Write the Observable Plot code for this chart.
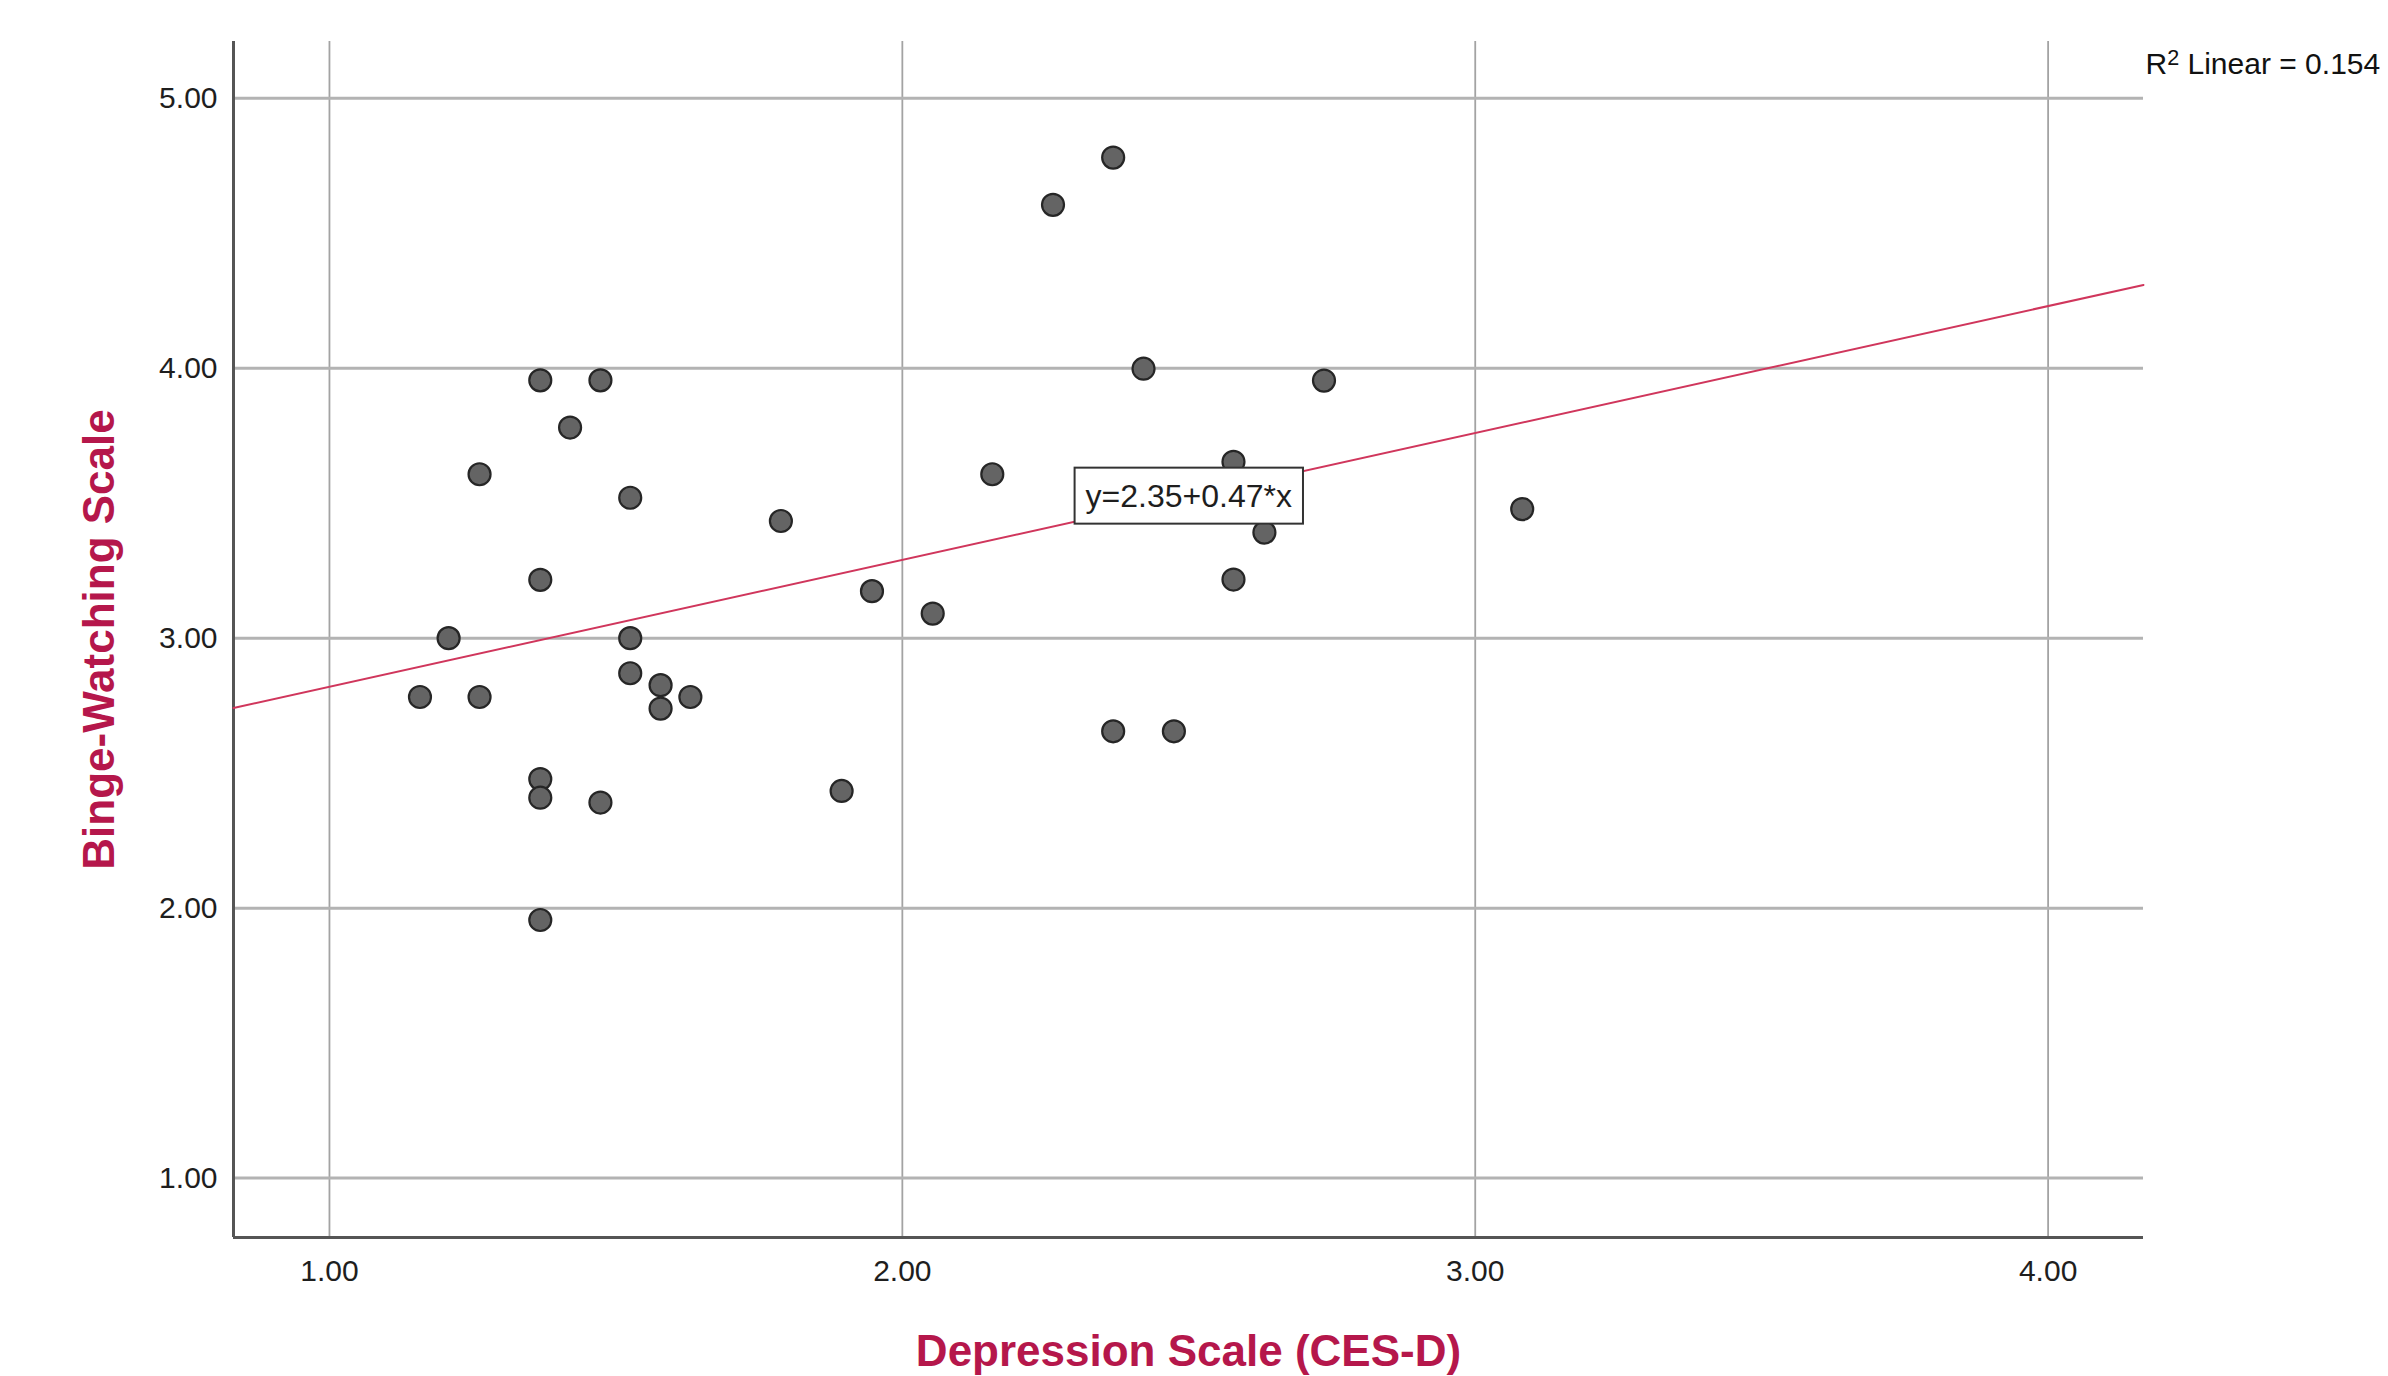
<!DOCTYPE html>
<html>
<head>
<meta charset="utf-8">
<script src="https://cdn.jsdelivr.net/npm/d3@7"></script>
<script src="https://cdn.jsdelivr.net/npm/@observablehq/plot@0.6"></script>
<style>
  html, body { margin: 0; padding: 0; background: #fff; }
  #chart { width: 2388px; height: 1376px; }
</style>
</head>
<body>
<div id="chart"></div>
<script>
const depression = [1.158, 1.208, 1.262, 1.262, 1.368, 1.368, 1.368, 1.368, 1.368, 1.420, 1.473, 1.473,
                    1.525, 1.525, 1.525, 1.578, 1.578, 1.630, 1.788, 1.894, 1.947, 2.053, 2.157, 2.263,
                    2.368, 2.368, 2.421, 2.474, 2.578, 2.578, 2.632, 2.736, 3.082];
const binge      = [2.782, 3.000, 3.607, 2.782, 3.955, 3.216, 2.478, 2.409, 1.956, 3.780, 3.955, 2.391,
                    3.520, 3.000, 2.870, 2.826, 2.739, 2.782, 3.434, 2.434, 3.174, 3.091, 3.607, 4.605,
                    4.780, 2.655, 3.998, 2.655, 3.653, 3.217, 3.391, 3.954, 3.478];
const xTicks = [1, 2, 3, 4];
const yTicks = [1, 2, 3, 4, 5];
const xDomain = [0.8325, 4.1665];
const yDomain = [0.78, 5.21];
const intercept = 2.35;
const slope = 0.47;
const eqAt = 2.5;
const eqLabel = "y=2.35+0.47*x";
const r2Label = "R\u00B2 Linear = 0.154";
const xTitle = "Depression Scale (CES-D)";
const yTitle = "Binge-Watching Scale";

// ---- derived tables ----
const points = depression.map((d, i) => ({x: d, y: binge[i]}));
const fit = xDomain.map(x => ({x, y: intercept + slope * x}));
const eqPos = [{x: eqAt, y: intercept + slope * eqAt}];

const font = "'Liberation Sans', Arial, Helvetica, sans-serif";
const titleColor = "#b5174b";
const fmt = d => d.toFixed(2);

const chart = Plot.plot({
  width: 2388,
  height: 1376,
  marginLeft: 233,
  marginRight: 245,
  marginTop: 41,
  marginBottom: 139,
  style: {fontFamily: font, background: "#fff", overflow: "visible", color: "#1e1e1e"},
  x: {domain: xDomain},
  y: {domain: yDomain},
  marks: [
    Plot.gridX(xTicks, {stroke: "#a3a3a3", strokeOpacity: 1, strokeWidth: 1.8}),
    Plot.gridY(yTicks, {stroke: "#b3b3b3", strokeOpacity: 1, strokeWidth: 3}),
    Plot.ruleX([xDomain[0]], {stroke: "#555", strokeWidth: 3}),
    Plot.ruleY([yDomain[0]], {stroke: "#555", strokeWidth: 3}),
    Plot.axisX({ticks: xTicks, tickSize: 0, tickPadding: 22, tickFormat: fmt, fontSize: 30, fill: "#1e1e1e", label: null}),
    Plot.axisY({ticks: yTicks, tickSize: 0, tickPadding: 16, tickFormat: fmt, fontSize: 30, fill: "#1e1e1e", label: null}),
    Plot.line(fit, {x: "x", y: "y", stroke: "#d0365c", strokeWidth: 2}),
    Plot.dot(points, {x: "x", y: "y", r: 11, fill: "#646464", fillOpacity: 1, stroke: "#262626", strokeWidth: 2.2}),
    Plot.text(eqPos, {x: "x", y: "y", text: () => eqLabel, fontSize: 32, fill: "#1e1e1e"}),
    Plot.text([r2Label], {frameAnchor: "top-right", text: d => d, textAnchor: "start", lineAnchor: "middle", dx: 2, dy: 23, fontSize: 30, fill: "#111"}),
    Plot.text([xTitle], {frameAnchor: "bottom", text: d => d, textAnchor: "middle", lineAnchor: "middle", dy: 114, fontSize: 44, fontWeight: "bold", fill: titleColor}),
    Plot.text([yTitle], {frameAnchor: "left", text: d => d, textAnchor: "middle", lineAnchor: "middle", dx: -134, rotate: -90, fontSize: 44, fontWeight: "bold", fill: titleColor})
  ]
});

document.getElementById("chart").append(chart);

const NS = "http://www.w3.org/2000/svg";

// white box with dark border behind the equation label
const eqText = Array.from(chart.querySelectorAll("text")).find(n => n.textContent === eqLabel);
if (eqText) {
  const b = eqText.getBBox();
  const padX = 11, padY = 10;
  const rect = document.createElementNS(NS, "rect");
  rect.setAttribute("x", b.x - padX);
  rect.setAttribute("y", b.y - padY);
  rect.setAttribute("width", b.width + 2 * padX);
  rect.setAttribute("height", b.height + 2 * padY);
  rect.setAttribute("fill", "#fff");
  rect.setAttribute("stroke", "#333");
  rect.setAttribute("stroke-width", 2);
  const tr = eqText.getAttribute("transform");
  if (tr) rect.setAttribute("transform", tr);
  eqText.parentNode.insertBefore(rect, eqText);
}

// render the "2" of R² as a real superscript
const r2Text = Array.from(chart.querySelectorAll("text")).find(n => n.textContent === r2Label);
if (r2Text) {
  const [head, tail] = r2Label.split("\u00B2");
  r2Text.textContent = "";
  const t1 = document.createElementNS(NS, "tspan"); t1.textContent = head;
  const t2 = document.createElementNS(NS, "tspan"); t2.textContent = "2";
  t2.setAttribute("dy", "-0.42em"); t2.setAttribute("font-size", "0.72em");
  const t3 = document.createElementNS(NS, "tspan"); t3.textContent = tail;
  t3.setAttribute("dy", "0.3em");
  r2Text.append(t1, t2, t3);
}
</script>
</body>
</html>
